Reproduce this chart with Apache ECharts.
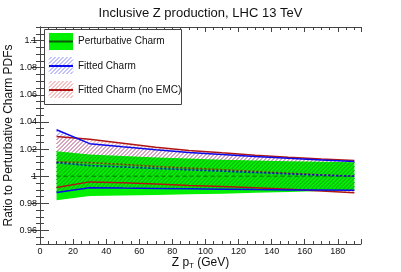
<!DOCTYPE html>
<html>
<head>
<meta charset="utf-8">
<script src="https://cdn.jsdelivr.net/npm/echarts@6/dist/echarts.min.js"></script>
<style>html,body{margin:0;padding:0;background:#fff;}#c{width:401px;height:272px;}</style>
</head>
<body>
<div id="c"></div>
<script>
// ---- data ----
const zpt = [10, 30, 50, 70, 90, 110, 130, 150, 170, 190];
const pertUpper   = [1.0183, 1.0160, 1.0148, 1.0138, 1.0130, 1.0122, 1.0115, 1.0110, 1.0106, 1.0102];
const pertCentral = [1.0, 1.0, 1.0, 1.0, 1.0, 1.0, 1.0, 1.0, 1.0, 1.0];
const pertLower   = [0.9822, 0.9853, 0.9857, 0.9861, 0.9866, 0.9871, 0.9877, 0.9884, 0.9891, 0.9897];
const fitUpper    = [1.0342, 1.0240, 1.0217, 1.0195, 1.0175, 1.0160, 1.0145, 1.0132, 1.0120, 1.0108];
const fitCentral  = [1.0100, 1.0078, 1.0068, 1.0057, 1.0047, 1.0037, 1.0027, 1.0017, 1.0008, 1.0000];
const fitLower    = [0.9880, 0.9915, 0.9912, 0.9910, 0.9907, 0.9904, 0.9901, 0.9899, 0.9898, 0.9897];
const noemcUpper  = [1.0293, 1.0272, 1.0242, 1.0213, 1.0190, 1.0172, 1.0155, 1.0140, 1.0127, 1.0115];
const noemcCentral= [1.0105, 1.0100, 1.0087, 1.0072, 1.0060, 1.0048, 1.0035, 1.0022, 1.0010, 1.0000];
const noemcLower  = [0.9917, 0.9958, 0.9952, 0.9942, 0.9932, 0.9924, 0.9914, 0.9903, 0.9890, 0.9878];
const yLabelValues = [0.96, 0.98, 1.0, 1.02, 1.04, 1.06, 1.08, 1.1];
const legendNames = ['Perturbative Charm', 'Fitted Charm', 'Fitted Charm (no EMC)'];
const titleText = 'Inclusive Z production, LHC 13 TeV';
const yTitle = 'Ratio to Perturbative Charm PDFs';

// ---- styles ----
const FONT = 'Liberation Sans, Arial, Helvetica, sans-serif';
const AX = '#444';
const GREEN = '#00f000';
const BLUE = '#0a0aee';
const RED = '#b01515';
const BLUE_HATCH = '#8686f2';
const RED_HATCH = '#e88888';
const DARK_HATCH = '#1c961c';
const HSTEP = 4;

const pairs = a => zpt.map((x, i) => [x, a[i]]);
const isMult = (v, s) => { const r = v / s; return Math.abs(r - Math.round(r)) < 1e-6; };
// overlap of the perturbative band with the union of the two fitted bands
const overlapLower = zpt.map((x, i) => Math.max(pertLower[i], Math.min(fitLower[i], noemcLower[i])));
const overlapUpper = zpt.map((x, i) => Math.min(pertUpper[i], Math.max(fitUpper[i], noemcUpper[i])));

function interp(pts, x) {
  for (let k = 0; k < pts.length - 1; k++) {
    const a = pts[k], b = pts[k + 1];
    if (x >= a[0] - 1e-9 && x <= b[0] + 1e-9) {
      const t = (x - a[0]) / (b[0] - a[0]);
      return a[1] + t * (b[1] - a[1]);
    }
  }
  return NaN;
}

// solid band: one polygon through the axes' scales
function band(lower, upper, fill, z) {
  return {
    type: 'custom', z: z, silent: true, clip: true,
    data: zpt.map((x, i) => [x, lower[i], upper[i]]),
    encode: {x: 0, y: [1, 2]},
    renderItem: function (params, api) {
      if (params.dataIndex !== 0) return null;
      const pts = [];
      for (let k = 0; k < zpt.length; k++) pts.push(api.coord([zpt[k], upper[k]]));
      for (let k = zpt.length - 1; k >= 0; k--) pts.push(api.coord([zpt[k], lower[k]]));
      return {type: 'polygon', shape: {points: pts}, style: {fill: fill, stroke: null}};
    }
  };
}
// hatched band: diagonal lines clipped to the band (pixel positions from api.coord)
function hatchBand(lower, upper, color, z) {
  return {
    type: 'custom', z: z, silent: true, clip: true,
    data: zpt.map((x, i) => [x, lower[i], upper[i]]),
    encode: {x: 0, y: [1, 2]},
    renderItem: function (params, api) {
      if (params.dataIndex !== 0) return null;
      const up = zpt.map((x, k) => api.coord([x, upper[k]]));
      const lo = zpt.map((x, k) => api.coord([x, lower[k]]));
      const x0 = up[0][0], x1 = up[up.length - 1][0];
      let ymin = Infinity, ymax = -Infinity;
      up.forEach(p => ymin = Math.min(ymin, p[1]));
      lo.forEach(p => ymax = Math.max(ymax, p[1]));
      const children = [];
      const dx = 0.25;
      for (let c = Math.floor((x0 + ymin) / HSTEP) * HSTEP + 0.5; c <= x1 + ymax; c += HSTEP) {
        let start = null, last = null;
        for (let x = x0; x <= x1 + 1e-9; x += dx) {
          const y = c - x;
          const inside = y >= interp(up, x) && y <= interp(lo, x);
          if (inside) { if (start === null) start = x; last = x; }
          if ((!inside || x + dx > x1 + 1e-9) && start !== null) {
            if (last > start) children.push({type: 'line', shape: {x1: start, y1: c - start, x2: last, y2: c - last},
              style: {stroke: color, lineWidth: 1}});
            start = null;
          }
        }
      }
      return {type: 'group', children: children};
    }
  };
}
function line(data, color, width, type, z) {
  return {type: 'line', data: pairs(data), symbol: 'none', z: z, silent: true,
          lineStyle: {color: color, width: width, type: type}};
}
// hatch lines for a legend swatch rectangle
function rectHatch(rx, ry, rw, rh, color) {
  const out = [];
  for (let c = Math.floor((rx + ry) / HSTEP) * HSTEP + 0.5; c <= rx + rw + ry + rh; c += HSTEP) {
    const xs = Math.max(rx, c - (ry + rh)), xe = Math.min(rx + rw, c - ry);
    if (xe > xs) out.push({type: 'line', z: 101, shape: {x1: xs, y1: c - xs, x2: xe, y2: c - xe},
      style: {stroke: color, lineWidth: 1}});
  }
  return out;
}

const baseX = {type: 'value', min: 0, max: 194, splitLine: {show: false}};
const baseY = {type: 'value', min: 0.95, max: 1.11, splitLine: {show: false}};

const option = {
  animation: false,
  backgroundColor: '#fff',
  title: {text: titleText, left: 'center', top: 2,
          textStyle: {fontFamily: FONT, fontSize: 13, fontWeight: 'normal', color: '#111'}},
  grid: {left: 40, right: 40, top: 27, bottom: 28, containLabel: false, outerBoundsMode: 'none'},
  xAxis: [
    Object.assign({}, baseX, {position: 'bottom', interval: 5,
      axisLine: {show: true, lineStyle: {color: AX, width: 1}},
      axisTick: {show: true, inside: true, length: 3, lineStyle: {color: AX}},
      axisLabel: {margin: 3, fontSize: 9, color: '#111', fontFamily: FONT,
                  formatter: v => (isMult(v, 20) && v <= 180) ? String(Math.round(v)) : ''},
      name: '{n|Z p}{s|T}{n| (GeV)}', nameLocation: 'middle', nameGap: 11, nameMoveOverlap: false,
      nameTextStyle: {rich: {
        n: {fontFamily: FONT, fontSize: 12, color: '#111'},
        s: {fontFamily: FONT, fontSize: 8, color: '#111', padding: [7, 0, 0, 0]}
      }}}),
    Object.assign({}, baseX, {position: 'bottom', interval: 20,
      axisLine: {show: false}, axisTick: {show: true, inside: true, length: 5, lineStyle: {color: AX}},
      axisLabel: {show: false}}),
    Object.assign({}, baseX, {position: 'top', interval: 5,
      axisLine: {show: true, lineStyle: {color: AX, width: 1}},
      axisTick: {show: true, inside: true, length: 3, lineStyle: {color: AX}},
      axisLabel: {show: false}}),
    Object.assign({}, baseX, {position: 'top', interval: 20,
      axisLine: {show: false}, axisTick: {show: true, inside: true, length: 5, lineStyle: {color: AX}},
      axisLabel: {show: false}})
  ],
  yAxis: [
    Object.assign({}, baseY, {position: 'left', interval: 0.005,
      axisLine: {show: true, lineStyle: {color: AX, width: 1}},
      axisTick: {show: true, inside: true, length: 4, lineStyle: {color: AX}},
      axisLabel: {margin: 3, fontSize: 9, color: '#111', fontFamily: FONT,
                  formatter: v => (isMult(v, 0.02) && v > 0.955 && v < 1.105) ? String(+v.toFixed(2)) : ''},
      name: yTitle, nameLocation: 'middle', nameGap: 25, nameMoveOverlap: false,
      nameTextStyle: {fontFamily: FONT, fontSize: 12, color: '#111'}}),
    Object.assign({}, baseY, {position: 'left',
      axisLine: {show: false},
      axisTick: {show: true, inside: true, length: 9, customValues: yLabelValues, lineStyle: {color: AX}},
      axisLabel: {show: false}}),
    Object.assign({}, baseY, {position: 'right', interval: 0.005,
      axisLine: {show: true, lineStyle: {color: AX, width: 1}},
      axisTick: {show: true, inside: true, length: 4, lineStyle: {color: AX}},
      axisLabel: {show: false}}),
    Object.assign({}, baseY, {position: 'right',
      axisLine: {show: false},
      axisTick: {show: true, inside: true, length: 9, customValues: yLabelValues, lineStyle: {color: AX}},
      axisLabel: {show: false}})
  ],
  series: [
    hatchBand(fitLower, fitUpper, BLUE_HATCH, 1),
    hatchBand(noemcLower, noemcUpper, RED_HATCH, 2),
    band(pertLower, pertUpper, GREEN, 3),
    hatchBand(overlapLower, overlapUpper, DARK_HATCH, 4),
    line(pertCentral, 'rgba(0,90,0,0.8)', 1, [4, 3], 5),
    line(noemcCentral, RED, 1.6, [2, 2], 6),
    line(fitCentral, BLUE, 1.6, [2, 2], 6),
    line(noemcUpper, RED, 1.5, 'solid', 7),
    line(noemcLower, RED, 1.5, 'solid', 7),
    line(fitUpper, BLUE, 1.5, 'solid', 7),
    line(fitLower, BLUE, 1.5, 'solid', 7)
  ],
  graphic: [].concat(
    [
      {type: 'rect', z: 100, shape: {x: 44.5, y: 29.5, width: 137, height: 75},
       style: {fill: '#fff', stroke: '#444', lineWidth: 1}},
      {type: 'rect', z: 101, shape: {x: 49, y: 33, width: 24, height: 17}, style: {fill: GREEN}},
      {type: 'line', z: 102, shape: {x1: 49, y1: 41.5, x2: 73, y2: 41.5}, style: {stroke: '#0a5a0a', lineWidth: 2}},
      {type: 'line', z: 102, shape: {x1: 49, y1: 66, x2: 73, y2: 66}, style: {stroke: BLUE, lineWidth: 2}},
      {type: 'line', z: 102, shape: {x1: 49, y1: 90, x2: 73, y2: 90}, style: {stroke: RED, lineWidth: 2}},
      {type: 'text', z: 102, x: 78, y: 41.5, style: {text: legendNames[0], fontFamily: FONT, fontSize: 10, fill: '#111', verticalAlign: 'middle'}},
      {type: 'text', z: 102, x: 78, y: 66, style: {text: legendNames[1], fontFamily: FONT, fontSize: 10, fill: '#111', verticalAlign: 'middle'}},
      {type: 'text', z: 102, x: 78, y: 90.5, style: {text: legendNames[2], fontFamily: FONT, fontSize: 10, fill: '#111', verticalAlign: 'middle'}}
    ],
    rectHatch(49, 57, 24, 17, BLUE_HATCH),
    rectHatch(49, 81, 24, 17, RED_HATCH)
  )
};
echarts.init(document.getElementById('c'), null, {renderer: 'canvas'}).setOption(option);
</script>
</body>
</html>
